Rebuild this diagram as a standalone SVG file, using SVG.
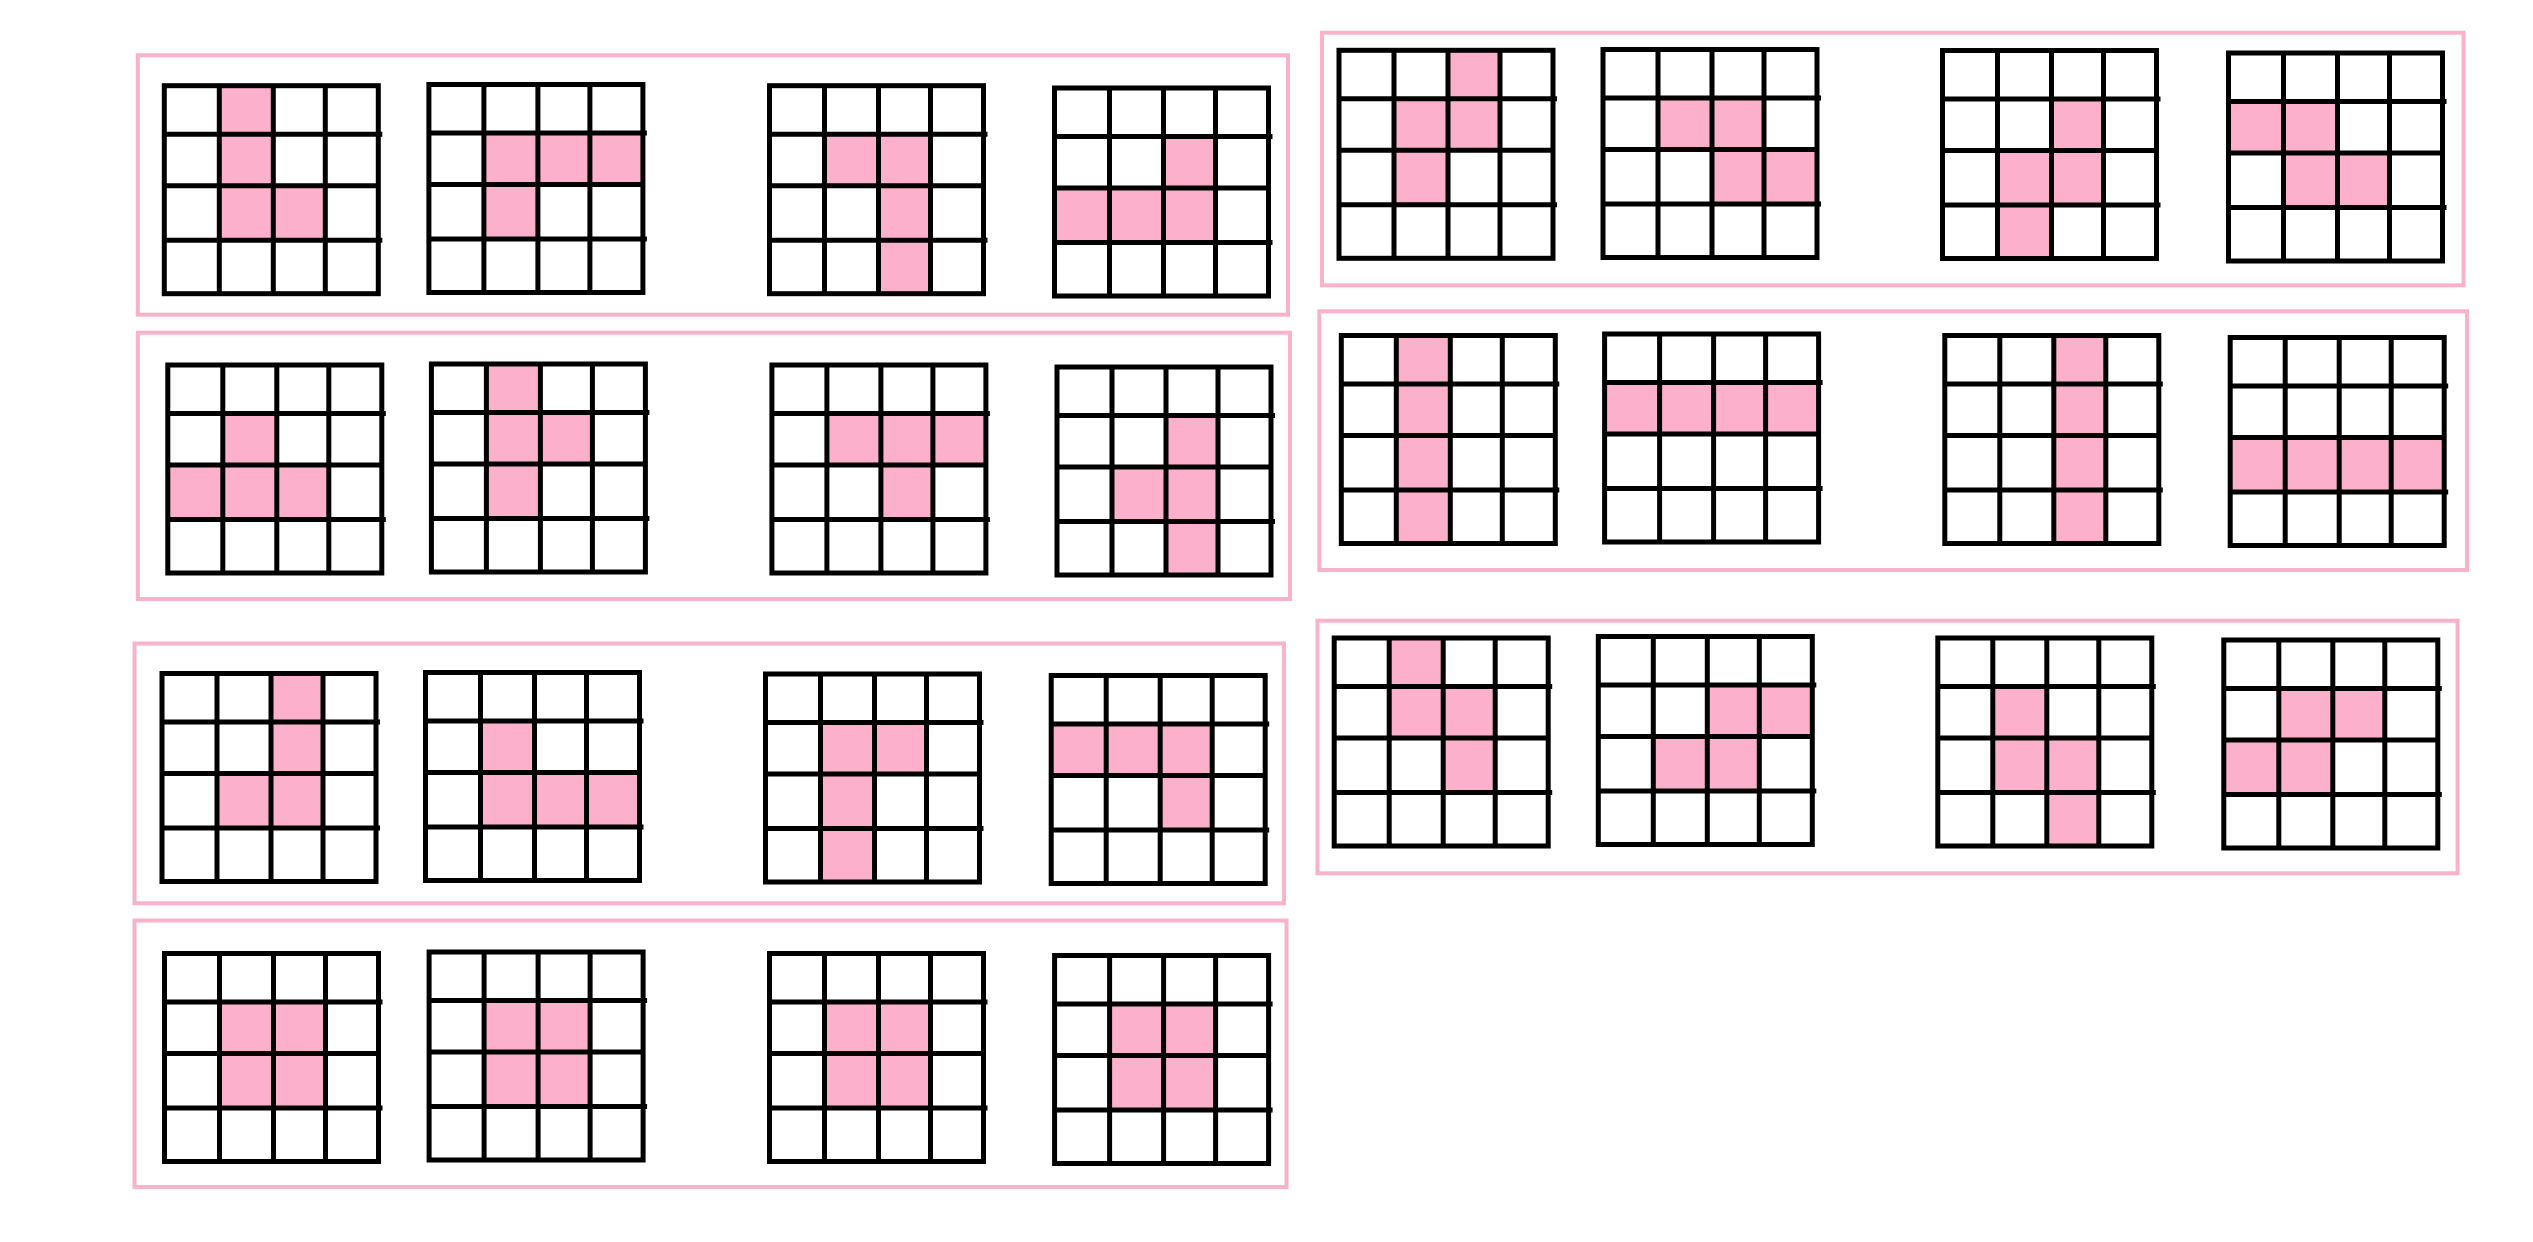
<svg xmlns="http://www.w3.org/2000/svg" xmlns:xlink="http://www.w3.org/1999/xlink" width="2533" height="1242" viewBox="0 0 2533 1242">
<style>
.panel{fill:none;stroke:#F8B2CB;stroke-width:4}
.cell{fill:#FDB0CB;stroke:none}
.gl{fill:none;stroke:#000;stroke-width:5;stroke-linecap:butt}
</style>
<defs>
<g id="grid" class="gl">
<rect x="0" y="0" width="214" height="208"/>
<line x1="55" y1="0" x2="55" y2="208"/>
<line x1="109" y1="0" x2="109" y2="208"/>
<line x1="161" y1="0" x2="161" y2="208"/>
<line x1="0" y1="48.5" x2="218" y2="48.5"/>
<line x1="0" y1="100" x2="214" y2="100"/>
<line x1="0" y1="154.5" x2="218" y2="154.5"/>
</g>
</defs>
<rect width="2533" height="1242" fill="#fff"/>

<g id="panelA">
<rect class="panel" x="137.8" y="55.3" width="1150.2" height="259.4"/>
<g id="A1" transform="translate(164.3,85.7)"><rect class="cell" x="55" y="0" width="54" height="154.5"/><rect class="cell" x="109" y="100" width="52" height="54.5"/><use xlink:href="#grid"/></g>
<g id="A2" transform="translate(428.9,84.5)"><rect class="cell" x="55" y="48.5" width="159" height="51.5"/><rect class="cell" x="55" y="100" width="54" height="54.5"/><use xlink:href="#grid"/></g>
<g id="A3" transform="translate(769.5,85.7)"><rect class="cell" x="55" y="48.5" width="106" height="51.5"/><rect class="cell" x="109" y="100" width="52" height="108"/><use xlink:href="#grid"/></g>
<g id="A4" transform="translate(1054.5,88)"><rect class="cell" x="109" y="48.5" width="52" height="51.5"/><rect class="cell" x="0" y="100" width="161" height="54.5"/><use xlink:href="#grid"/></g>
</g>

<g id="panelB">
<rect class="panel" x="137.8" y="332.7" width="1152.2" height="266.3"/>
<g id="B1" transform="translate(167.8,365)"><rect class="cell" x="55" y="48.5" width="54" height="51.5"/><rect class="cell" x="0" y="100" width="161" height="54.5"/><use xlink:href="#grid"/></g>
<g id="B2" transform="translate(431.4,364)"><rect class="cell" x="55" y="0" width="54" height="154.5"/><rect class="cell" x="109" y="48.5" width="52" height="51.5"/><use xlink:href="#grid"/></g>
<g id="B3" transform="translate(771.9,365)"><rect class="cell" x="55" y="48.5" width="159" height="51.5"/><rect class="cell" x="109" y="100" width="52" height="54.5"/><use xlink:href="#grid"/></g>
<g id="B4" transform="translate(1057,367)"><rect class="cell" x="109" y="48.5" width="52" height="159.5"/><rect class="cell" x="55" y="100" width="54" height="54.5"/><use xlink:href="#grid"/></g>
</g>

<g id="panelC">
<rect class="panel" x="134.5" y="643.5" width="1149.5" height="259.8"/>
<g id="C1" transform="translate(162,673.5)"><rect class="cell" x="109" y="0" width="52" height="154.5"/><rect class="cell" x="55" y="100" width="54" height="54.5"/><use xlink:href="#grid"/></g>
<g id="C2" transform="translate(425.5,672.5)"><rect class="cell" x="55" y="48.5" width="54" height="51.5"/><rect class="cell" x="55" y="100" width="159" height="54.5"/><use xlink:href="#grid"/></g>
<g id="C3" transform="translate(765.5,674)"><rect class="cell" x="55" y="48.5" width="54" height="159.5"/><rect class="cell" x="109" y="48.5" width="52" height="51.5"/><use xlink:href="#grid"/></g>
<g id="C4" transform="translate(1051.2,675.5)"><rect class="cell" x="0" y="48.5" width="161" height="51.5"/><rect class="cell" x="109" y="100" width="52" height="54.5"/><use xlink:href="#grid"/></g>
</g>

<g id="panelD">
<rect class="panel" x="134.5" y="920.5" width="1152" height="266.5"/>
<g id="D1" transform="translate(164.5,953.5)"><rect class="cell" x="55" y="48.5" width="106" height="106"/><use xlink:href="#grid"/></g>
<g id="D2" transform="translate(429.1,952)"><rect class="cell" x="55" y="48.5" width="106" height="106"/><use xlink:href="#grid"/></g>
<g id="D3" transform="translate(769.5,953.5)"><rect class="cell" x="55" y="48.5" width="106" height="106"/><use xlink:href="#grid"/></g>
<g id="D4" transform="translate(1054.6,955.5)"><rect class="cell" x="55" y="48.5" width="106" height="106"/><use xlink:href="#grid"/></g>
</g>

<g id="panelE">
<rect class="panel" x="1322" y="32.7" width="1141.5" height="252.6"/>
<g id="E1" transform="translate(1339,50.3)"><rect class="cell" x="109" y="0" width="52" height="48.5"/><rect class="cell" x="55" y="48.5" width="106" height="51.5"/><rect class="cell" x="55" y="100" width="54" height="54.5"/><use xlink:href="#grid"/></g>
<g id="E2" transform="translate(1603,49.5)"><rect class="cell" x="55" y="48.5" width="106" height="51.5"/><rect class="cell" x="109" y="100" width="105" height="54.5"/><use xlink:href="#grid"/></g>
<g id="E3" transform="translate(1942.5,50.5)"><rect class="cell" x="109" y="48.5" width="52" height="51.5"/><rect class="cell" x="55" y="100" width="106" height="54.5"/><rect class="cell" x="55" y="154.5" width="54" height="53.5"/><use xlink:href="#grid"/></g>
<g id="E4" transform="translate(2228.5,53)"><rect class="cell" x="0" y="48.5" width="109" height="51.5"/><rect class="cell" x="55" y="100" width="106" height="54.5"/><use xlink:href="#grid"/></g>
</g>

<g id="panelF">
<rect class="panel" x="1319.3" y="311.3" width="1147.7" height="258.7"/>
<g id="F1" transform="translate(1341.3,335.5)"><rect class="cell" x="55" y="0" width="54" height="208"/><use xlink:href="#grid"/></g>
<g id="F2" transform="translate(1604.6,334)"><rect class="cell" x="0" y="48.5" width="214" height="51.5"/><use xlink:href="#grid"/></g>
<g id="F3" transform="translate(1944.8,335.5)"><rect class="cell" x="109" y="0" width="52" height="208"/><use xlink:href="#grid"/></g>
<g id="F4" transform="translate(2230.2,337.5)"><rect class="cell" x="0" y="100" width="214" height="54.5"/><use xlink:href="#grid"/></g>
</g>

<g id="panelG">
<rect class="panel" x="1317.5" y="620.7" width="1140.1" height="252.6"/>
<g id="G1" transform="translate(1334.2,638)"><rect class="cell" x="55" y="0" width="54" height="100"/><rect class="cell" x="109" y="48.5" width="52" height="106"/><use xlink:href="#grid"/></g>
<g id="G2" transform="translate(1598.3,636.5)"><rect class="cell" x="109" y="48.5" width="105" height="51.5"/><rect class="cell" x="55" y="100" width="106" height="54.5"/><use xlink:href="#grid"/></g>
<g id="G3" transform="translate(1937.8,638)"><rect class="cell" x="55" y="48.5" width="54" height="106"/><rect class="cell" x="109" y="100" width="52" height="108"/><use xlink:href="#grid"/></g>
<g id="G4" transform="translate(2223.8,640)"><rect class="cell" x="55" y="48.5" width="106" height="51.5"/><rect class="cell" x="0" y="100" width="109" height="54.5"/><use xlink:href="#grid"/></g>
</g>
</svg>
